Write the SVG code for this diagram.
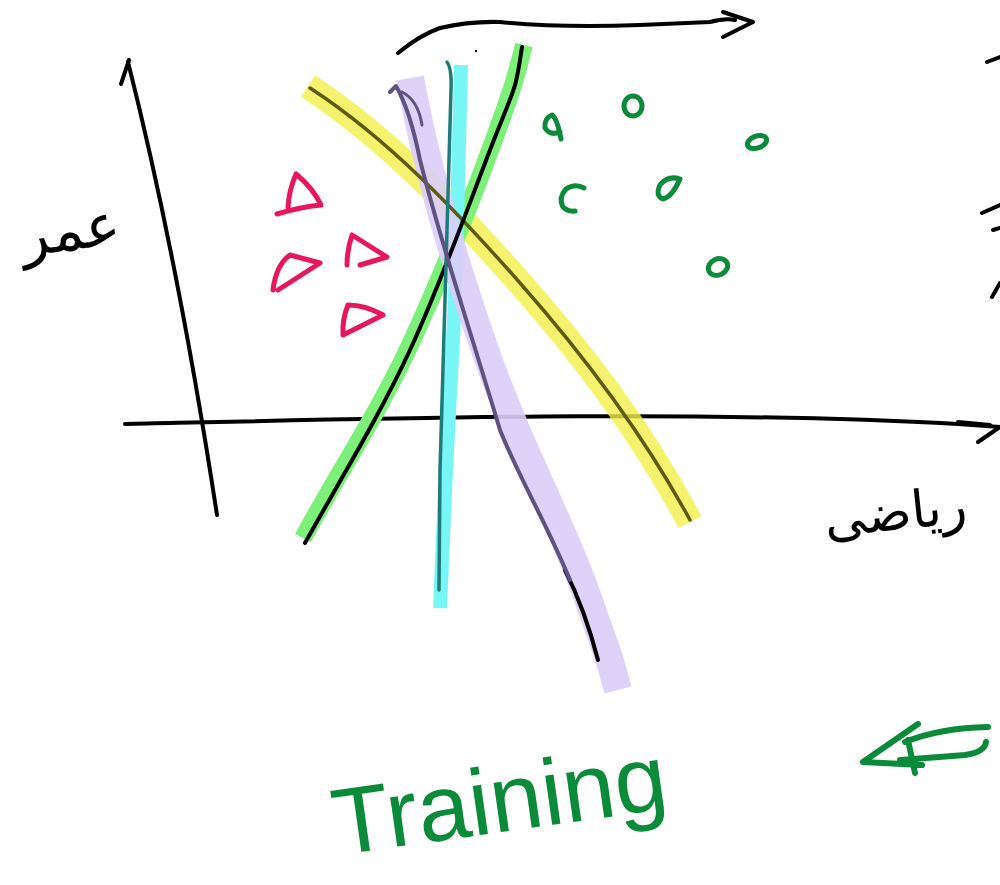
<svg xmlns="http://www.w3.org/2000/svg" width="1000" height="885" viewBox="0 0 1000 885">
<style>
.ink{fill:none;stroke:#000;stroke-width:4;stroke-linecap:round;stroke-linejoin:round}
.hl{fill:none;stroke-linecap:butt;stroke-linejoin:round}
.tri{fill:none;stroke:#e8175d;stroke-width:5;stroke-linecap:round;stroke-linejoin:round}
.dot{fill:none;stroke:#0b8a3a;stroke-width:5;stroke-linecap:round;stroke-linejoin:round}
.gr{fill:none;stroke:#0b8a3a;stroke-width:6;stroke-linecap:round;stroke-linejoin:round}
.lbl{font-family:"DejaVu Sans",sans-serif;fill:#000}
</style>
<rect width="1000" height="885" fill="#fff"/>

<g id="axes">
  <path class="ink" d="M125,424 C400,418 700,410 958,424 L1000,427"/>
  <path class="ink" stroke-width="6" d="M958,422 L990,425"/>
  <path class="ink" d="M1000,427 L978,442"/>
  <path class="ink" d="M128,62 Q178,260 217,515"/>
  <path class="ink" d="M129,60 L121,84"/>
  <path class="ink" stroke-width="3.5" d="M398,53 Q420,35 440,28 Q470,21 500,22 Q560,28 640,25 L710,22 Q725,18 735,20"/>
  <path class="ink" d="M723,12 L753,22 L723,37"/>
  <circle cx="476" cy="51" r="1.2" fill="#000"/>
</g>

<g id="separators">
  <path class="hl" stroke="#f3f04a" stroke-width="26" opacity="0.8" d="M308,86 C390,140 460,215 520,283 S640,428 690,522"/>
  <path class="hl" stroke="#7df07a" stroke-width="18" d="M303,538 C340,470 380,410 410,345 S470,205 492,145 S515,80 524,45"/>
  <path class="hl" stroke="#78f5f5" stroke-width="14" d="M461,65 L455,300 L446,470 L440,608"/>
  <path class="hl" stroke="#dccdf7" stroke-width="28" opacity="0.9" d="M410,78 C425,160 450,250 485,350 S560,520 585,590 S610,660 618,690"/>
  <path fill="none" stroke="#5e5a10" stroke-width="3.5" stroke-linecap="round" d="M310,88 C390,140 460,215 520,283 S640,428 690,520"/>
  <path class="ink" d="M305,543 C340,480 380,415 410,350 S465,215 490,150 S515,95 522,47"/>
  <path fill="none" stroke="#1f7a7a" stroke-width="3.5" stroke-linecap="round" d="M447,62 Q452,68 451,90 L445,300 L440,470 L439,590"/>
  <path fill="none" stroke="#000" stroke-width="4" stroke-linecap="round" d="M565,570 Q585,610 598,660"/>
  <path fill="none" stroke="#5e5280" stroke-width="4" stroke-linecap="round" stroke-linejoin="round" d="M390,92 L396,86 Q410,110 420,160 C440,240 470,330 500,430 C520,480 545,520 570,580"/>
  <path fill="none" stroke="#5e5280" stroke-width="3" stroke-linecap="round" d="M402,92 Q418,100 422,125"/>
</g>

<g id="triangles">
  <path class="tri" d="M296,174 Q289,190 288,207 M277,214 Q300,207 321,205 Q313,188 296,174"/>
  <path class="tri" d="M273,290 Q276,265 290,255 L320,263 L278,290"/>
  <path class="tri" d="M352,235 Q347,250 347,265 M360,265 L387,257 L352,235"/>
  <path class="tri" d="M348,305 Q342,320 343,335 L383,315 Q365,305 348,305"/>
</g>

<g id="circles">
  <path class="dot" d="M561,139 Q557,118 552,115 Q544,118 545,128 Q550,136 560,132"/>
  <ellipse class="dot" cx="633" cy="106" rx="9" ry="10"/>
  <ellipse class="dot" cx="757" cy="142" rx="10" ry="6" transform="rotate(-20 757 142)"/>
  <path class="dot" d="M584,188 Q575,183 566,189 Q558,198 563,207 Q568,212 575,211"/>
  <path class="dot" d="M680,179 Q668,175 660,185 Q655,196 663,199 Q672,197 680,179 Z"/>
  <ellipse class="dot" cx="718" cy="267" rx="10" ry="8" transform="rotate(-25 718 267)"/>
</g>

<g id="labels">
  <text class="lbl" x="70" y="250" font-size="58" text-anchor="middle" transform="rotate(-8 70 230)">عمر</text>
  <text class="lbl" x="895" y="530" font-size="52" text-anchor="middle" transform="rotate(-6 895 510)">ریاضی</text>
  <text x="500" y="832" font-family="Liberation Sans, sans-serif" font-size="94" fill="#0b8a3a" text-anchor="middle" transform="rotate(-8 500 805)">Training</text>
</g>

<g id="edge-marks">
  <path class="ink" stroke-width="5" d="M987,62 L1000,57 M982,213 L1000,205 M993,230 L1000,228 M992,297 L1000,283"/>
</g>

<g id="arrow-left">
  <path class="gr" d="M918,724 L863,762 L922,765 M988,727 Q940,728 905,742 M986,742 Q985,752 965,755 L900,760 M908,740 L915,773"/>
</g>
</svg>
